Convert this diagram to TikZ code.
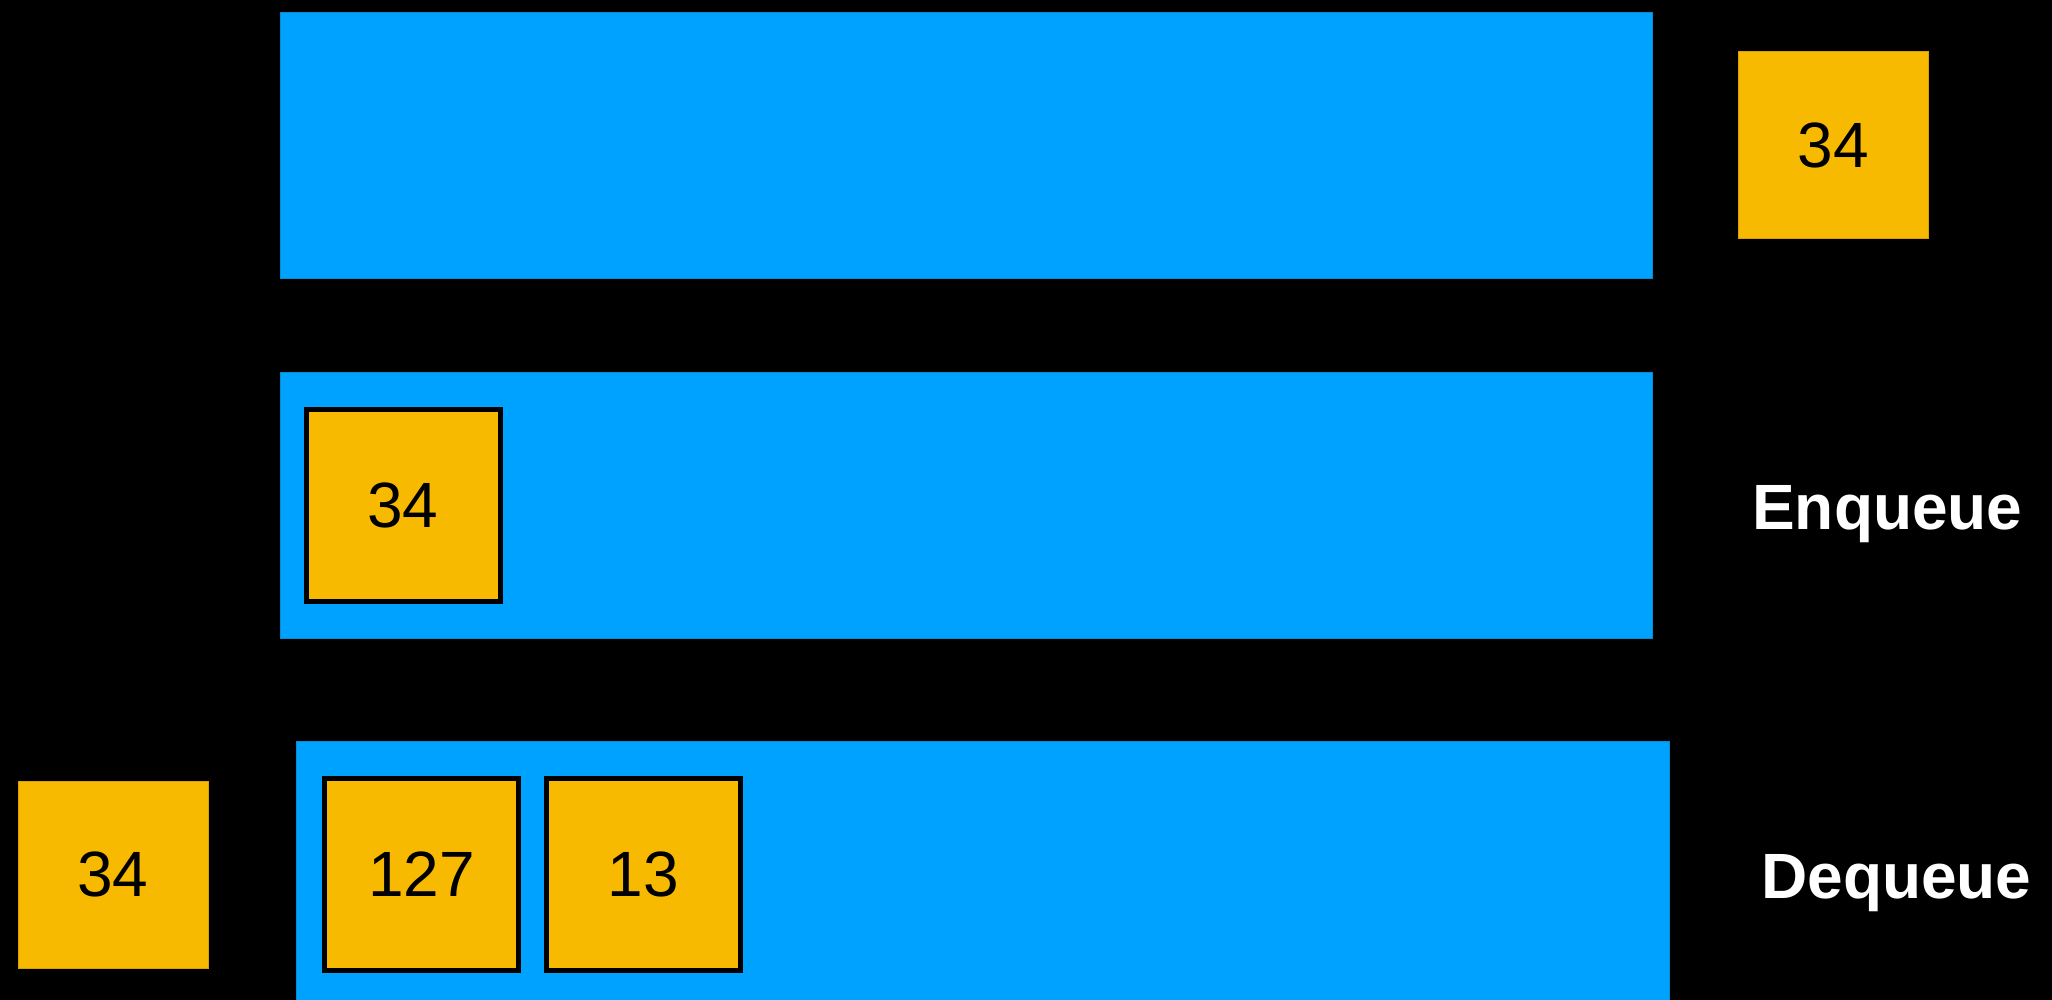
\documentclass[tikz,border=0pt]{standalone}
\usepackage{fontspec}
\setmainfont{Liberation Sans}
\definecolor{qblue}{HTML}{00A2FF}
\definecolor{qblueedge}{HTML}{0A8AD0}
\definecolor{qyellow}{HTML}{F8BA00}
\definecolor{qyedge}{HTML}{D9A200}
\tikzset{
  bar/.style={rectangle, fill=qblue, draw=qblueedge, line width=1pt, inner sep=0pt, anchor=north west},
  item/.style={rectangle, fill=qyellow, draw=qyedge, line width=1pt, inner sep=0pt,
    minimum width=190pt, minimum height=187pt, font=\fontsize{64}{77}\selectfont, text=black},
  held/.style={item, draw=black, line width=5pt, minimum width=194pt, minimum height=192pt},
  lbl/.style={text=white, font=\bfseries\fontsize{64}{77}\selectfont, inner sep=0pt, anchor=base west}
}
\begin{document}
\begin{tikzpicture}[x=1pt,y=-1pt]
  \fill[black] (0,0) rectangle (2052,1000);
  \useasboundingbox (0,0) rectangle (2052,1000);
  % bars
  \node[bar, minimum width=1372pt, minimum height=266pt] (bar1) at (280,12) {};
  \node[bar, minimum width=1372pt, minimum height=266pt] (bar2) at (280,372) {};
  \node[bar, minimum width=1373pt, minimum height=266pt] (bar3) at (296,741) {};
  % free items
  \node[item] (new34) at (1833,145.5) {34};
  \node[item] (out34) at (113,874.5) {34};
  % items in queues
  \node[held] (q34) at (403,505.5) {34};
  \node[held] (q127) at (421.5,874.5) {127};
  \node[held] (q13) at (643.5,874.5) {13};
  % labels
  \node[lbl] (enq) at (1752,529) {Enqueue};
  \node[lbl] (deq) at (1761,898) {Dequeue};
\end{tikzpicture}
\end{document}
